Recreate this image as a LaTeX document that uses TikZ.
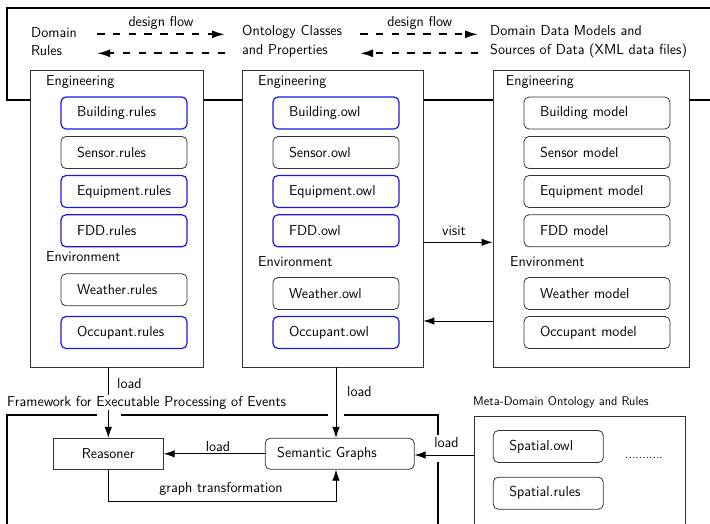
\documentclass[tikz,border=0pt]{standalone}
\usetikzlibrary{arrows.meta}
\begin{document}
\begin{tikzpicture}[x=1pt,y=-1pt,
  font=\sffamily\fontsize{14.4}{18.7}\selectfont,
  frame/.style={line width=2pt, black},
  group/.style={draw=black!80, line width=0.8pt, fill=white, minimum width=#1, minimum height=297pt, inner sep=0pt},
  item/.style={draw=black!80, line width=0.8pt, fill=white, rounded corners=5pt, minimum height=32pt, text width=#1, align=left, inner xsep=16pt, inner ysep=0pt},
  bitem/.style={item=#1, draw={rgb,255:red,25;green,25;blue,225}, line width=1.2pt},
  arr/.style={-{Latex[length=11pt,width=7.5pt]}, line width=0.9pt},
  flow/.style={-{Latex[length=13pt,width=8pt]}, line width=2pt, dash pattern=on 7.5pt off 8.3pt},
  lbl/.style={inner sep=1pt},
  hdr/.style={anchor=west, align=left, inner sep=0pt}
]
\useasboundingbox (0,0) rectangle (710,523);
\clip (0,0) rectangle (710,523);

% top frame
\draw[frame] (7,8) rectangle (730,100);

% header texts
\node[hdr] (dr) at (31,41.5) {Domain\\Rules};
\node[hdr] (oc) at (242,41.5) {Ontology Classes\\and Properties};
\node[hdr] (dm) at (490,41.5) {Domain Data Models and\\Sources of Data (XML data files)};

\coordinate (a1s) at (97,34.3);  \coordinate (a1e) at (225,34.3);
\coordinate (a2s) at (225,53.3); \coordinate (a2e) at (97,53.3);
\coordinate (b1s) at (360,34.3); \coordinate (b1e) at (478,34.3);
\coordinate (b2s) at (478,53.3); \coordinate (b2e) at (360,53.3);
\draw[flow] (a1s) -- (a1e);
\draw[flow] (a2s) -- (a2e);
\draw[flow] (b1s) -- (b1e);
\draw[flow] (b2s) -- (b2e);
\node[lbl] (df1) at (161,22.7) {design flow};
\node[lbl] (df2) at (419.8,22.7) {design flow};

% group boxes
\node[group=173pt] (lb) at (116.5,218.5) {};
\node[group=181pt] (mb) at (332.5,218.5) {};
\node[group=196pt] (rb) at (591,218.5) {};

% left column
\node[hdr] (le) at (46,81.7) {Engineering};
\node[bitem=94pt] (br) at (124,113) {Building.rules};
\node[item=94pt]  (sr) at (124,152.5) {Sensor.rules};
\node[bitem=94pt] (er) at (124,191.5) {Equipment.rules};
\node[bitem=94pt] (fr) at (124,230.8) {FDD.rules};
\node[hdr] (lv) at (46,257) {Environment};
\node[item=94pt]  (wr) at (124,289.8) {Weather.rules};
\node[bitem=94pt] (or) at (124,332.5) {Occupant.rules};

% middle column
\node[hdr] (me) at (258,81.7) {Engineering};
\node[bitem=94pt] (bo) at (336,113) {Building.owl};
\node[item=94pt]  (so) at (336,152.5) {Sensor.owl};
\node[bitem=94pt] (eo) at (336,191.5) {Equipment.owl};
\node[bitem=94pt] (fo) at (336,230.8) {FDD.owl};
\node[hdr] (mv) at (258,261.7) {Environment};
\node[item=94pt]  (wo) at (336,293.5) {Weather.owl};
\node[bitem=94pt] (oo) at (336,332.5) {Occupant.owl};

% right column
\node[hdr] (re) at (505.7,81.7) {Engineering};
\node[item=114pt] (bm) at (597,113) {Building model};
\node[item=114pt] (sm) at (597,152.5) {Sensor model};
\node[item=114pt] (em) at (597,191.5) {Equipment model};
\node[item=114pt] (fm) at (597,230.8) {FDD model};
\node[hdr] (rv) at (510,261.7) {Environment};
\node[item=114pt] (wm) at (597,293.5) {Weather model};
\node[item=114pt] (om) at (597,332.5) {Occupant model};

% visit arrows
\draw[arr] (mb.east |- 0,242.3) -- (rb.west |- 0,242.3);
\node[lbl] (vl) at (454,230.7) {visit};
\draw[arr] (rb.west |- 0,321) -- (mb.east |- 0,321);

% framework frame (with gaps)
\draw[frame] (7,540) -- (7,415) -- (96.7,415);
\draw[frame] (120.7,415) -- (328.3,415);
\draw[frame] (344.3,415) -- (438,415) -- (438,435);
\draw[frame] (438,462) -- (438,540);

% bottom nodes
\node[draw=black!80, line width=0.8pt, minimum width=110pt, minimum height=31pt, inner sep=0pt] (rs) at (108.3,453.8) {Reasoner};
\node[draw=black!80, line width=0.8pt, rounded corners=5pt, minimum height=31pt, text width=125pt, align=left, inner xsep=12pt, inner ysep=0pt] (sg) at (339.7,453.8) {Semantic Graphs};

\coordinate (cx) at (336,0);
\draw[arr] (rs.north |- lb.south) -- (rs.north);
\node[lbl, anchor=west] (l1) at (116,383.3) {load};
\node[anchor=west, fill=white, inner sep=1pt] (fw) at (6,402.7) {Framework for Executable Processing of Events};

\draw[arr] (cx |- mb.south) -- (cx |- sg.north);
\node[lbl, anchor=west] (l2) at (346,391.7) {load};

\draw[arr] (sg.west) -- (rs.east);
\node[lbl] (l3) at (218,446.7) {load};

\draw[arr] (rs.south) -- ++(0,31.7) -| (cx |- sg.south);
\node[lbl] (gt) at (221,489.3) {graph transformation};

% meta-domain
\node[anchor=west, inner sep=0pt, font=\sffamily\fontsize{12.6}{14}\selectfont] (mt) at (473,402.3) {Meta-Domain Ontology and Rules};
\node[draw=black!80, line width=0.8pt, anchor=north west, minimum width=211pt, minimum height=130pt, inner sep=0pt] (meta) at (474,416) {};
\node[item=78pt] (spo) at (548.3,446.5) {Spatial.owl};
\node[item=78pt] (spr) at (548.3,493.2) {Spatial.rules};
\node[inner sep=0pt, font=\sffamily\fontsize{12.6}{14}\selectfont] (dots) at (644,458) {...........};

\draw[arr] (meta.west |- 0,455) -- (sg.east |- 0,455);
\node[lbl] (l4) at (446.5,442.3) {load};
\end{tikzpicture}
\end{document}
